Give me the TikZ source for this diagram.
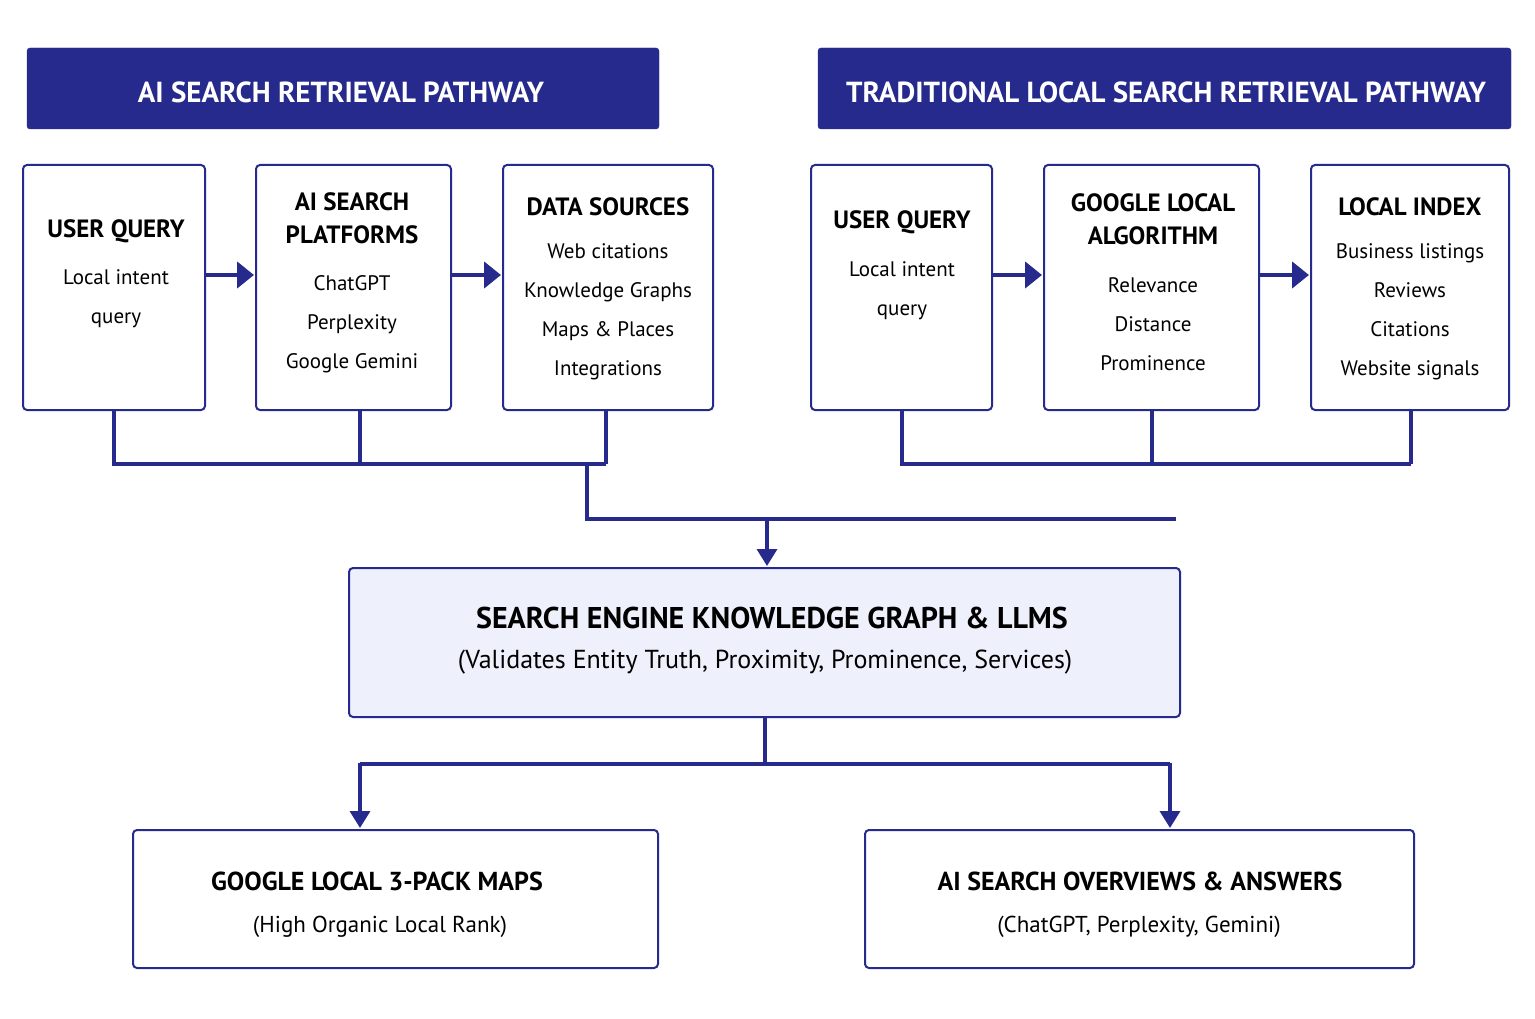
\documentclass[tikz,border=0pt]{standalone}
\usepackage{fontspec}
\setmainfont{PT Sans}
\usetikzlibrary{arrows.meta}
\definecolor{navy}{HTML}{252A8C}
\definecolor{lav}{HTML}{EEF0FB}
\begin{document}
\begin{tikzpicture}[x=1pt,y=-1pt,
 hdr/.style={fill=navy,draw=navy,rounded corners=3pt},
 hdt/.style={text=white,font=\fontsize{29}{34}\selectfont\bfseries},
 box/.style={draw=navy,line width=2pt,rounded corners=4pt,fill=white},
 ln/.style={draw=navy,line width=3.5pt},
 arr/.style={draw=navy,line width=4.5pt,-{Triangle[length=17pt,width=26pt]}},
 darr/.style={draw=navy,line width=3.5pt,-{Triangle[length=17pt,width=20pt]}},
 tt/.style={align=center,font=\fontsize{25}{33}\selectfont\bfseries},
 bd/.style={align=center,font=\fontsize{21}{39}\selectfont},
 bt/.style={align=center,font=\fontsize{26}{30}\selectfont\bfseries},
 bs/.style={align=center,font=\fontsize{23}{28}\selectfont}]
\useasboundingbox (0,0) rectangle (1535,1019);
\fill[white] (0,0) rectangle (1535,1019);
% headers
\path[hdr] (27,48) rectangle (659,129);
\node[hdt] (h1) at (341,92) {AI SEARCH RETRIEVAL PATHWAY};
\path[hdr] (818,48) rectangle (1511,129);
\node[hdt] (h2) at (1166,92) {TRADITIONAL LOCAL SEARCH RETRIEVAL PATHWAY};
% boxes
\draw[box] (23,165) rectangle (205,410); \coordinate (b1) at (114,410);
\draw[box] (256,165) rectangle (451,410); \coordinate (b2) at (360,410);
\draw[box] (503,165) rectangle (713,410); \coordinate (b3) at (606,410);
\draw[box] (811,165) rectangle (992,410); \coordinate (b4) at (902,410);
\draw[box] (1044,165) rectangle (1259,410); \coordinate (b5) at (1152,410);
\draw[box] (1311,165) rectangle (1509,410); \coordinate (b6) at (1411,410);
\node[tt] (t1) at (116,231) {USER QUERY};
\node[bd] (d1) at (116,299) {Local intent\\ query};
\node[tt] (t2) at (352,218) {AI SEARCH\\ PLATFORMS};
\node[bd] (d2) at (352,324) {ChatGPT\\ Perplexity\\ Google Gemini};
\node[tt] (t3) at (608,207) {DATA SOURCES};
\node[bd] (d3) at (608,312) {Web citations\\ Knowledge Graphs\\ Maps \& Places\\ Integrations};
\node[tt] (t4) at (902,222) {USER QUERY};
\node[bd] (d4) at (902,291) {Local intent\\ query};
\node[tt] (t5) at (1153,219) {GOOGLE LOCAL\\ ALGORITHM};
\node[bd] (d5) at (1153,324) {Relevance\\ Distance\\ Prominence};
\node[tt] (t6) at (1410,207) {LOCAL INDEX};
\node[bd] (d6) at (1410,312) {Business listings\\ Reviews\\ Citations\\ Website signals};
% horizontal arrows
\draw[arr] (205,275) -- (254,275);
\draw[arr] (451,275) -- (501,275);
\draw[arr] (992,275) -- (1042,275);
\draw[arr] (1259,275) -- (1309,275);
% buses
\draw[ln] (b1) |- (606,464); \draw[ln] (b2) -- (360,464); \draw[ln] (b3) -- (606,464);
\draw[ln] (b4) |- (1411,464); \draw[ln] (b5) -- (1152,464); \draw[ln] (b6) -- (1411,464);
\coordinate (j1) at (587,464); \coordinate (j2) at (1176,519);
\draw[ln] (j1) |- (j2);
% central box
\draw[box,fill=lav] (349,568) rectangle (1180,717);
\node[align=center,font=\fontsize{30}{36}\selectfont\bfseries] (c1) at (772,618) {SEARCH ENGINE KNOWLEDGE GRAPH \& LLMS};
\node[align=center,font=\fontsize{26}{30}\selectfont] (c2) at (765,662) {(Validates Entity Truth, Proximity, Prominence, Services)};
\draw[darr] (767,519) -- (767,566);
% bottom
\draw[ln] (765,717) -- (765,764);
\draw[ln] (360,764) -- (1170,764);
\draw[darr] (360,762.5) -- (360,828);
\draw[darr] (1170,762.5) -- (1170,828);
\draw[box] (133,830) rectangle (658,968);
\draw[box] (865,830) rectangle (1414,968);
\node[bt] (o1) at (377,881) {GOOGLE LOCAL 3-PACK MAPS};
\node[bs] (p1) at (380,927) {(High Organic Local Rank)};
\node[bt] (o2) at (1140,881) {AI SEARCH OVERVIEWS \& ANSWERS};
\node[bs] (p2) at (1139,927) {(ChatGPT, Perplexity, Gemini)};
\end{tikzpicture}
\end{document}
